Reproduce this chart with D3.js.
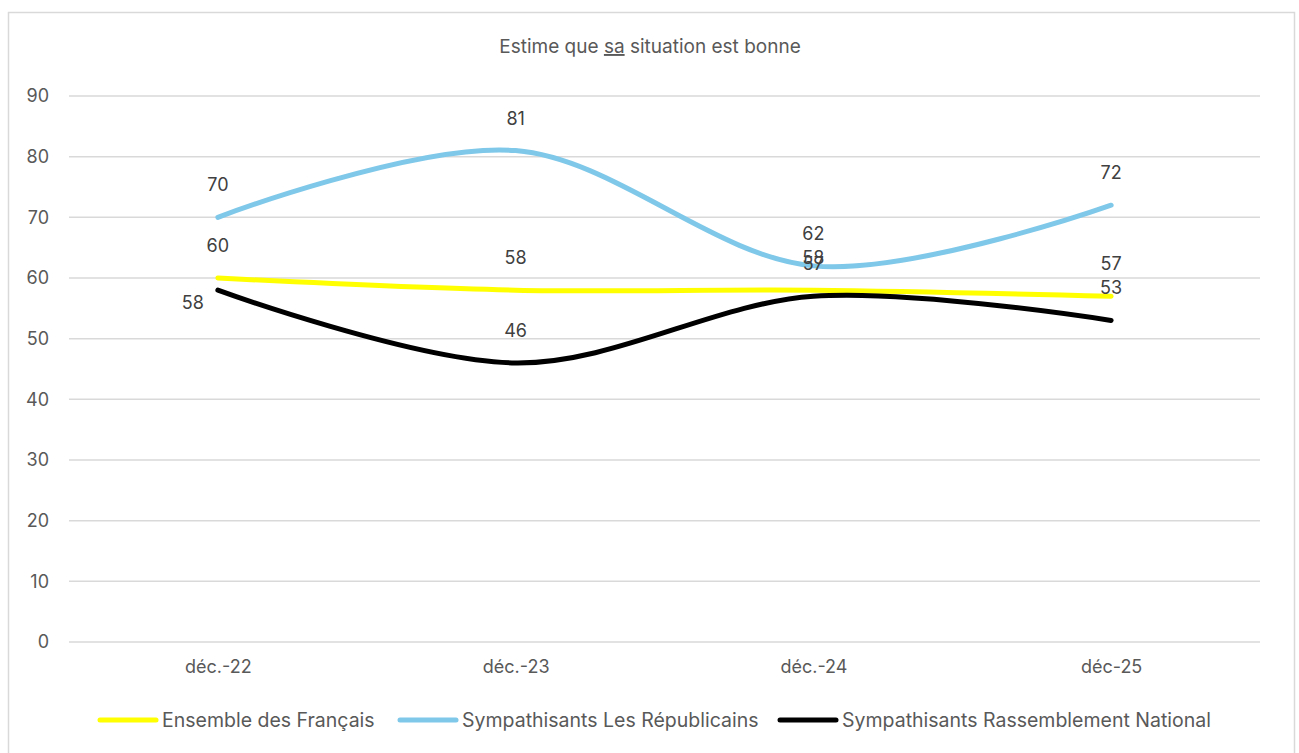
<!DOCTYPE html>
<html><head><meta charset="utf-8">
<script src="https://cdn.jsdelivr.net/npm/d3@7"></script>
<style>
html,body{margin:0;padding:0;background:#fff;}
svg{display:block;font-family:Inter,"Liberation Sans","Noto Sans",Arial,sans-serif;}
</style></head>
<body>
<svg id="chart" width="1299" height="753"></svg>
<script>
const categories = ["déc.-22", "déc.-23", "déc.-24", "déc-25"];
const seriesNames = ["Ensemble des Français", "Sympathisants Les Républicains", "Sympathisants Rassemblement National"];
const ensembleValues = [60, 58, 58, 57];
const republicainsValues = [70, 81, 62, 72];
const rnValues = [58, 46, 57, 53];
const yTicks = [0, 10, 20, 30, 40, 50, 60, 70, 80, 90];
const seriesColors = ["#FFFF00", "#7FC8E9", "#000000"];

(function () {
const FONT = "Inter, Liberation Sans, Noto Sans, Arial, sans-serif";
const series = [ensembleValues, republicainsValues, rnValues].map((v, i) => ({name: seriesNames[i], values: v, color: seriesColors[i]}));

const svg = d3.select("#chart");
svg.append("rect").attr("x", 8.5).attr("y", 12.5).attr("width", 1286).attr("height", 760)
  .attr("fill", "none").attr("stroke", "#d9d9d9").attr("stroke-width", 1.5);

const pLeft = 69, pRight = 1260, pTop = 96, pBottom = 642;
const x = d3.scalePoint().domain(categories).range([pLeft, pRight]).padding(0.5);
const y = d3.scaleLinear().domain([0, 90]).range([pBottom, pTop]);

const t = svg.append("text").attr("x", 650).attr("y", 53).attr("text-anchor", "middle")
  .attr("font-size", 19).attr("fill", "#595959");
t.append("tspan").text("Estime que ");
t.append("tspan").attr("text-decoration", "underline").text("sa");
t.append("tspan").text(" situation est bonne");

svg.append("g").selectAll("line").data(yTicks).join("line")
  .attr("x1", pLeft).attr("x2", pRight).attr("y1", d => y(d)).attr("y2", d => y(d))
  .attr("stroke", "#d9d9d9").attr("stroke-width", 1.5);

const yAxis = svg.append("g").attr("transform", `translate(${pLeft - 20},0)`)
  .call(d3.axisLeft(y).tickValues(yTicks).tickSize(0).tickPadding(0));
yAxis.select(".domain").remove();
yAxis.selectAll("text").attr("font-size", 18).attr("fill", "#595959").attr("font-family", FONT);

const xAxis = svg.append("g").attr("transform", `translate(0,${pBottom + 18})`)
  .call(d3.axisBottom(x).tickSize(0).tickPadding(0));
xAxis.select(".domain").remove();
xAxis.selectAll("text").attr("font-size", 18).attr("fill", "#595959").attr("dy", "0.71em").attr("font-family", FONT);

const line = d3.line().x((d, i) => x(categories[i])).y(d => y(d)).curve(d3.curveCatmullRom.alpha(0));
svg.append("g").selectAll("path").data(series).join("path")
  .attr("d", d => line(d.values)).attr("fill", "none")
  .attr("stroke", d => d.color).attr("stroke-width", 5).attr("stroke-linecap", "round");

const lab = svg.append("g").attr("font-size", 18).attr("fill", "#404040");
series.forEach((s, si) => {
  s.values.forEach((v, i) => {
    const isLeft = si === 2 && i === 0;
    lab.append("text")
      .attr("x", x(categories[i]) + (isLeft ? -25 : 0))
      .attr("y", y(v) + (isLeft ? 19 : -26))
      .attr("text-anchor", "middle")
      .text(v);
  });
});

const legendX = [98, 398, 778];
const lg = svg.append("g");
series.forEach((s, i) => {
  lg.append("line").attr("x1", legendX[i] + 2).attr("x2", legendX[i] + 58).attr("y1", 720).attr("y2", 720)
    .attr("stroke", s.color).attr("stroke-width", 5).attr("stroke-linecap", "round");
  lg.append("text").attr("x", legendX[i] + 64).attr("y", 727).attr("font-size", 19.5).attr("fill", "#595959")
    .text(s.name);
});
})();
</script>
</body></html>
